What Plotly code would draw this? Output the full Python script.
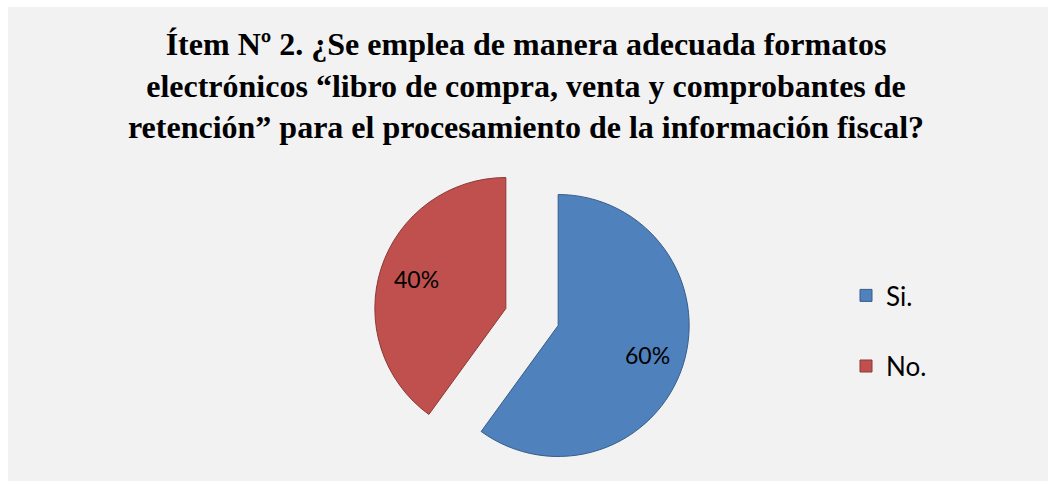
import math
import plotly.graph_objects as go

# Survey answers for item 2
labels = ["Si.", "No."]
values = [60, 40]
slice_colors = ["#4F81BD", "#C0504D"]
edge_colors = ["#385D8A", "#8C3836"]

W, H = 1052, 481
PULL = 0.21
# pie box (pixels): centre and side length
CX, CY, BOX = 532, 317, 317

total = sum(values)
pct_text = [f"{round(100 * v / total)}%" for v in values]

fig = go.Figure(
    go.Pie(
        labels=[lab + "<br> " for lab in labels],  # extra blank line spaces the legend like the original
        values=values,
        customdata=labels,
        sort=False,
        direction="clockwise",
        rotation=0,
        pull=[PULL] * len(values),
        marker=dict(colors=slice_colors, line=dict(color=edge_colors, width=1)),
        textinfo="none",
        domain=dict(x=[(CX - BOX / 2) / W, (CX + BOX / 2) / W],
                    y=[1 - (CY + BOX / 2) / H, 1 - (CY - BOX / 2) / H]),
        hovertemplate="%{customdata} %{percent}<extra></extra>",
    )
)

# percentage labels, Excel style: placed out along each slice's bisector
r = BOX / (2 * (1 + PULL))
annotations = []
cum = 0
for v, txt in zip(values, pct_text):
    mid = (cum + v / 2) / total * 2 * math.pi
    cum += v
    d = (PULL + 0.72) * r
    px = CX + d * math.sin(mid)
    py = CY - d * math.cos(mid)
    annotations.append(dict(
        x=px / W, y=1 - py / H, xref="paper", yref="paper", text=txt,
        xanchor="center", yanchor="middle",
        showarrow=False, font=dict(family="Lato", size=23, color="black"),
    ))

fig.update_layout(
    width=W,
    height=H,
    margin=dict(l=0, r=0, t=0, b=0),
    paper_bgcolor="white",
    plot_bgcolor="white",
    title=dict(
        text="Ítem Nº 2. ¿Se emplea de manera adecuada formatos<br>"
             "electrónicos “libro de compra, venta y comprobantes de<br>"
             "retención” para el procesamiento de la información fiscal?",
        font=dict(family="Liberation Serif", size=32, color="black", weight="bold"),
        x=0.5, xanchor="center",
        y=1 - 55 / H, yanchor="middle",
    ),
    legend=dict(
        x=846 / W, xanchor="left",
        y=1 - 348 / H, yanchor="middle",
        valign="top",
        font=dict(family="Lato", size=26, color="black"),
        bgcolor="rgba(0,0,0,0)",
    ),
    annotations=annotations,
    shapes=[
        dict(type="rect", xref="paper", yref="paper", layer="below",
             x0=8 / W, x1=1048 / W, y0=0, y1=1 - 7 / H,
             fillcolor="#F2F2F2", line=dict(width=0)),
    ],
)

fig.write_html("out.html", config={"displayModeBar": False},
               post_script="document.body.style.margin='0';")
